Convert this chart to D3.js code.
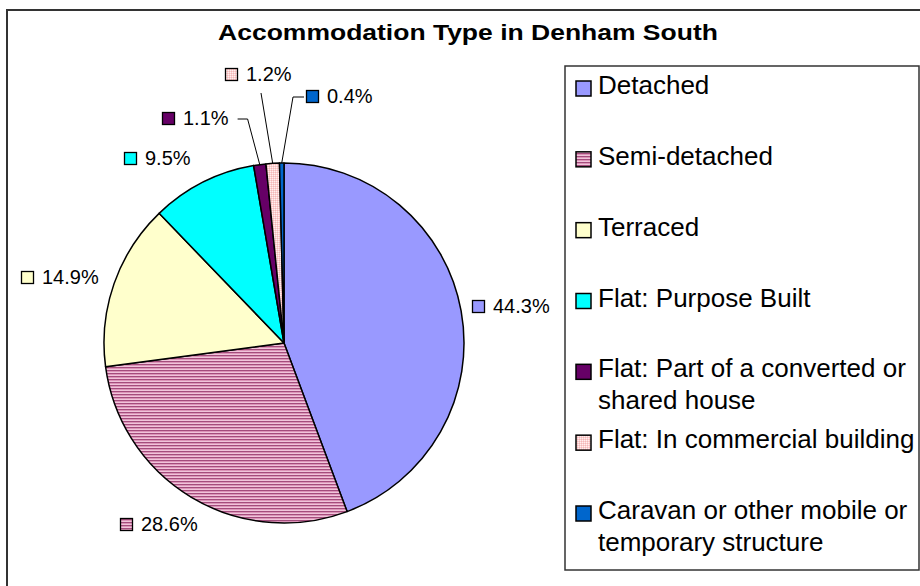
<!DOCTYPE html>
<html>
<head>
<meta charset="utf-8">
<script src="https://cdn.jsdelivr.net/npm/d3@7"></script>
<style>
  html, body { margin: 0; padding: 0; background: #fff; }
  svg { display: block; font-family: "Liberation Sans", Arial, sans-serif; }
</style>
</head>
<body>
<svg id="chart" width="920" height="586"></svg>
<script>
// chart data
const chartTitle = "Accommodation Type in Denham South";
const categories = [
    "Detached",
    "Semi-detached",
    "Terraced",
    "Flat: Purpose Built",
    "Flat: Part of a converted or shared house",
    "Flat: In commercial building",
    "Caravan or other mobile or temporary structure"
];
const shares = [44.3, 28.6, 14.9, 9.5, 1.1, 1.2, 0.4];

// styling (kept apart from the data)
const palette = ["#9999FF", "url(#stripes)", "#FFFFCC", "#00FFFF", "#660066", "url(#dots)", "#0066CC"];

// label nudges from the default outside position, leader side for the thin slices
const labelLayout = [
    { dx: 0, dy: -1 },
    { dx: -6, dy: 9 },
    { dx: -6, dy: 0 },
    { dx: -25, dy: -6 },
    { dx: -58, dy: -26, leader: "right" },
    { dx: -12, dy: -68, leader: "bottom" },
    { dx: 58, dy: -46, leader: "left" }
];

const svg = d3.select("#chart");
const cx = 284, cy = 343, radius = 180;

/** patterns for the two hatched slices */
const defs = svg.append("defs");
let stripes = defs.append("pattern")
    .attr("id", "stripes")
    .attr("patternUnits", "userSpaceOnUse")
    .attr("width", 6).attr("height", 3);
stripes.append("rect").attr("width", 6).attr("height", 3).attr("fill", "#dc94b8");
stripes.append("rect").attr("width", 6).attr("height", 1).attr("fill", "#a44c7c");
stripes.append("rect").attr("y", 2).attr("width", 6).attr("height", 1).attr("fill", "#f0c4da");

let dots = defs.append("pattern")
    .attr("id", "dots")
    .attr("patternUnits", "userSpaceOnUse")
    .attr("width", 2).attr("height", 2);
dots.append("rect").attr("width", 2).attr("height", 2).attr("fill", "#fbd0d0");
dots.append("rect").attr("width", 1).attr("height", 1).attr("fill", "#fff0f0");
dots.append("rect").attr("x", 1).attr("y", 1).attr("width", 1).attr("height", 1).attr("fill", "#f2b8b8");

// outer chart frame (runs past the bottom/right of the window)
svg.append("rect")
    .attr("x", 7).attr("y", 10)
    .attr("width", 930).attr("height", 600)
    .attr("fill", "none")
    .attr("stroke", "#333")
    .attr("stroke-width", 2);

// title - the original is drawn a bit wide, so stretch it to its 500px span
let title = svg.append("text")
    .attr("text-anchor", "middle")
    .attr("font-size", 23)
    .attr("font-weight", "bold")
    .text(chartTitle);
let titleLen = title.node().getComputedTextLength();
title.attr("transform", "translate(468,40) scale(" + (500 / titleLen) + ",1)");

// pie
const data = categories.map((c, i) => ({ name: c, share: shares[i], fill: palette[i], layout: labelLayout[i] }));
const pie = d3.pie().sort(null).value(d => d.share);
const arcs = pie(data);
const arc = d3.arc().innerRadius(0).outerRadius(radius);

let pieGroup = svg.append("g").attr("transform", "translate(" + cx + "," + cy + ")");
pieGroup.selectAll("path")
    .data(arcs)
    .join("path")
    .attr("d", arc)
    .attr("fill", d => d.data.fill)
    .attr("stroke", "#000")
    .attr("stroke-width", 1.5)
    .attr("stroke-linejoin", "round");

// data labels: small key square + percentage
const fmt = d3.format(".1f");
let labelGroup = svg.append("g").attr("font-size", 20);

arcs.forEach(a => {
    let mid = (a.startAngle + a.endAngle) / 2;
    let s = Math.sin(mid), c = Math.cos(mid);
    let g = labelGroup.append("g");
    let txt = g.append("text").text(fmt(a.data.share) + "%");
    let tw = txt.node().getComputedTextLength();
    let w = 21 + tw, h = 18;
    // default spot just outside the rim, then nudge
    let ax = cx + (radius + 12) * s, ay = cy - (radius + 12) * c;
    let bx = ax + s * w / 2 + a.data.layout.dx;
    let by = ay - c * h / 2 + a.data.layout.dy;
    let x0 = Math.round(bx - w / 2);
    let base = Math.round(by + 7);
    g.insert("rect", "text")
        .attr("x", x0 + 0.5).attr("y", base - 12.5)
        .attr("width", 12).attr("height", 12)
        .attr("fill", a.data.fill)
        .attr("stroke", "#000")
        .attr("stroke-width", 1.3);
    txt.attr("x", x0 + 21).attr("y", base);

    // leader lines for the thin slices
    let side = a.data.layout.leader;
    if (side) {
        let px = cx + radius * s, py = cy - radius * c;
        let pts;
        if (side === "right") {
            let ly = base - 6;
            pts = [[x0 + w + 9, ly], [x0 + w + 19, ly], [px, py]];
        } else if (side === "left") {
            let ly = base - 6;
            pts = [[x0 - 2, ly], [x0 - 13, ly], [px, py]];
        } else {
            pts = [[x0 + 36, base + 12], [px, py]];
        }
        svg.append("path")
            .attr("d", d3.line()(pts))
            .attr("fill", "none")
            .attr("stroke", "#000")
            .attr("stroke-width", 1);
    }
});

// legend
const legendX = 565, legendY = 66, legendW = 354, legendH = 504;
svg.append("rect")
    .attr("x", legendX).attr("y", legendY)
    .attr("width", legendW).attr("height", legendH)
    .attr("fill", "#fff")
    .attr("stroke", "#333")
    .attr("stroke-width", 1.5);

const legendRow = d3.scaleLinear().domain([0, categories.length - 1]).range([94, 519]);
let legend = svg.append("g").attr("font-size", 26);

data.forEach((d, i) => {
    let base = legendRow(i);
    legend.append("rect")
        .attr("x", 576).attr("y", base - 13)
        .attr("width", 15).attr("height", 15)
        .attr("fill", d.fill)
        .attr("stroke", "#000")
        .attr("stroke-width", 1.5);
    let t = legend.append("text").attr("x", 598).attr("y", base);
    // wrap words so they stay inside the box
    let words = d.name.split(" ");
    let line = [];
    let lineNo = 0;
    let tspan = t.append("tspan").attr("x", 598).attr("y", base);
    words.forEach(word => {
        line.push(word);
        tspan.text(line.join(" "));
        if (tspan.node().getComputedTextLength() > 318 && line.length > 1) {
            line.pop();
            tspan.text(line.join(" "));
            line = [word];
            lineNo++;
            tspan = t.append("tspan").attr("x", 598).attr("y", base + lineNo * 32).text(word);
        }
    });
});
</script>
</body>
</html>
